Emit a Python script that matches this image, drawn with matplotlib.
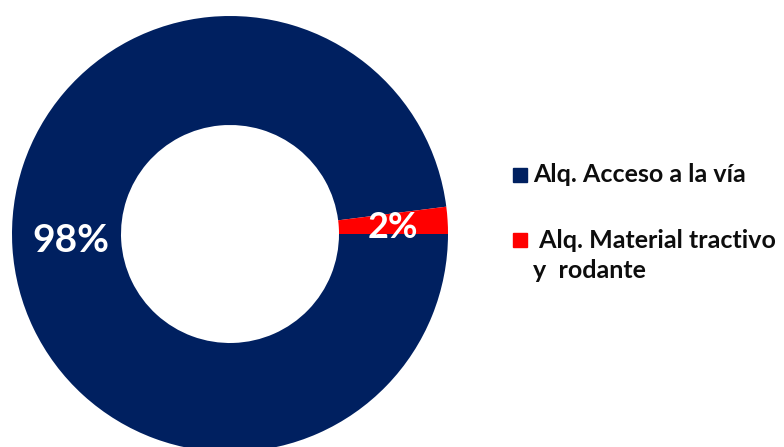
import matplotlib.pyplot as plt
from matplotlib.patches import Rectangle

plt.rcParams['font.family'] = ['Lato', 'DejaVu Sans']

# datos del gráfico
labels = ["Alq. Acceso a la vía", " Alq. Material tractivo\ny  rodante"]
values = [98, 2]
pct_labels = ["98%", "2%"]
colors = ["#002060", "#FF0000"]

fig = plt.figure(figsize=(7.84, 4.47), dpi=100)

# ejes del anillo (cuadrado en píxeles)
ax = fig.add_axes([12 / 784, -5 / 447, 436 / 784, 436 / 447])
wedges, _ = ax.pie(values, colors=colors, startangle=0, counterclock=False,
                   radius=1, wedgeprops=dict(width=0.5, edgecolor='none'))
ax.set_xlim(-1, 1)
ax.set_ylim(-1, 1)
ax.axis('off')

# etiquetas de porcentaje
ax.text(-0.73, -0.03, pct_labels[0], color='white', fontsize=28,
        fontweight='bold', ha='center', va='center')
ax.text(0.745, 0.03, pct_labels[1], color='white', fontsize=26,
        fontweight='bold', ha='center', va='center')

# leyenda manual
y_pos = [175, 240]
for i, (lab, col) in enumerate(zip(labels, colors)):
    y = y_pos[i]
    fig.patches.append(Rectangle((513 / 784, 1 - (y + 7) / 447), 14 / 784, 14 / 447,
                                 transform=fig.transFigure, color=col))
    for j, ln in enumerate(lab.split("\n")):
        fig.text(533 / 784, 1 - (y + j * 31) / 447, ln,
                 fontsize=18, fontweight='bold', color='#0d0d0d',
                 ha='left', va='center')

fig.savefig("out.png", dpi=100)
